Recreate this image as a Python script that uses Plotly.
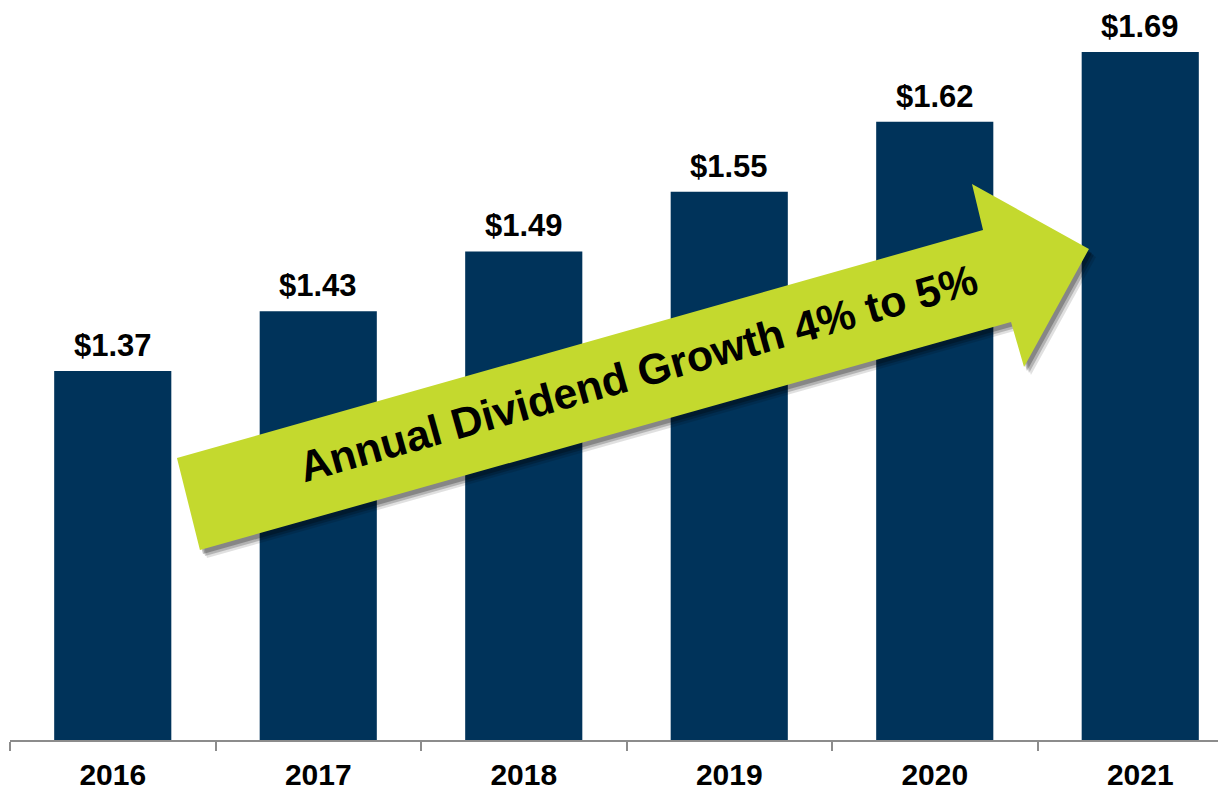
import plotly.graph_objects as go

years = ["2016", "2017", "2018", "2019", "2020", "2021"]
dividends = [1.37, 1.43, 1.49, 1.55, 1.62, 1.69]
value_labels = ["&#36;1.37", "&#36;1.43", "&#36;1.49", "&#36;1.55", "&#36;1.62", "&#36;1.69"]

# the page body adds an 8px offset, so the figure sits at (8, 8)
OFF = 8
W, H = 1226 - OFF, 792 - OFF
L, R, T, B = 10 - OFF, 0, 0, 792 - 740
PW, PH = W - L - R, H - T - B

BAR = "#00335A"
LIME = "#C4D92E"
FONT = "Arial, Liberation Sans, sans-serif"


def px(x, y):
    # screen pixel -> paper coordinates
    return (x - OFF - L) / PW, (H - B - (y - OFF)) / PH


def path(points, dx=0, dy=0):
    parts = []
    for i, (x, y) in enumerate(points):
        u, v = px(x + dx, y + dy)
        parts.append(("M" if i == 0 else "L") + f"{u:.4f},{v:.4f}")
    return " ".join(parts) + " Z"


arrow = [(177, 458), (983, 230), (972, 184), (1089, 249),
         (1024, 367), (1011, 322), (200, 550)]

fig = go.Figure()
fig.add_trace(go.Bar(
    x=years, y=dividends,
    marker=dict(color=BAR, line=dict(width=0)),
    width=0.57,
    hoverinfo="skip",
))

# category axis: annotations are placed by category index
for i, (val, lab) in enumerate(zip(dividends, value_labels)):
    fig.add_annotation(
        x=i, y=val, text=f"<b>{lab}</b>", showarrow=False,
        yanchor="bottom", yshift=7, borderpad=0,
        font=dict(family=FONT, size=31, color="black"),
    )

# arrow with a soft shadow
for off, op in [(7, 0.12), (5, 0.2), (3, 0.25)]:
    fig.add_shape(type="path", xref="paper", yref="paper",
                  path=path(arrow, off, off + 1),
                  fillcolor=f"rgba(0,0,0,{op})", line=dict(width=0), layer="above")
fig.add_shape(type="path", xref="paper", yref="paper", path=path(arrow),
              fillcolor=LIME, line=dict(width=0), layer="above")

tx, ty = px(638, 373)
fig.add_annotation(
    xref="paper", yref="paper", x=tx, y=ty,
    text="<b>Annual Dividend Growth 4% to 5%</b>", showarrow=False,
    textangle=-15.7, font=dict(family=FONT, size=43, color="black"),
)

fig.update_layout(
    width=W, height=H,
    margin=dict(l=L, r=R, t=T, b=B, autoexpand=False),
    paper_bgcolor="white", plot_bgcolor="white",
    showlegend=False,
    xaxis=dict(
        type="category", range=[-0.5, -0.5 + PW / 205.5],
        tickson="boundaries", ticks="outside", ticklen=9, tickwidth=2,
        tickcolor="#8C8C8C", showline=True, linecolor="#8C8C8C", linewidth=2,
        showgrid=False, tickfont=dict(family=FONT, size=30, color="black"),
        tickprefix="<b>", ticksuffix="</b>", ticklabelstandoff=7,
        fixedrange=True,
    ),
    yaxis=dict(
        range=[1.0, 1.0 + PH / 997.0], visible=False, showgrid=False,
        zeroline=False, fixedrange=True,
    ),
)

fig.write_html("out.html")
